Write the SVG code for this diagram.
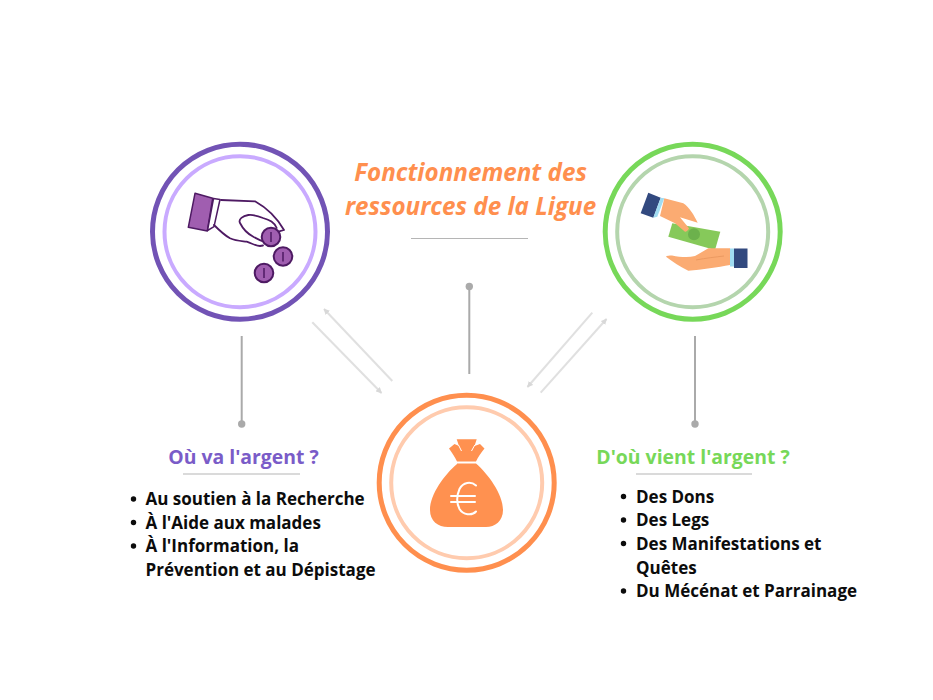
<svg xmlns="http://www.w3.org/2000/svg" width="933" height="700" viewBox="0 0 933 700">
<style>
text{font-family:"Open Sans","Noto Sans",sans-serif;font-weight:700}
.title{font-size:24.200px;font-style:italic;fill:#ff8f4e;text-anchor:middle}
.head{font-size:19.400px;text-anchor:middle}
.item{font-size:17px;fill:#0c0c0c}
.rule{stroke:#b5b5b5;stroke-width:1;fill:none}
.stem{stroke:#aaa;stroke-width:2;fill:none}
.dot{fill:#aaa}
.flow{stroke:#e0e0e0;stroke-width:2;fill:none}
.ring{fill:none}
.bullet{fill:#0c0c0c}
.coin{fill:#a05eb0;stroke:#4e1a63;stroke-width:2}
.coinbar{stroke:#4e1a63;stroke-width:1.500;fill:none}
</style>
<defs>
<marker id="ah" viewBox="0 0 10 10" refX="9" refY="5" markerWidth="6" markerHeight="6" markerUnits="userSpaceOnUse" orient="auto"><path d="M0 0L10 5L0 10Z" fill="#d8d8d8"/></marker>
</defs>
<rect width="933" height="700" fill="#fff"/>
<g id="connectors">
<line class="stem" x1="241.700" y1="336" x2="241.700" y2="424"/><circle class="dot" cx="241.700" cy="424" r="3.700"/>
<line class="stem" x1="469.300" y1="374" x2="469.300" y2="286.500"/><circle class="dot" cx="469.300" cy="286.500" r="3.700"/>
<line class="stem" x1="695" y1="336" x2="695" y2="424"/><circle class="dot" cx="695" cy="424" r="3.700"/>
<line class="flow" x1="312.300" y1="322.300" x2="381.500" y2="393" marker-end="url(#ah)"/>
<line class="flow" x1="392.300" y1="381" x2="324" y2="309" marker-end="url(#ah)"/>
<line class="flow" x1="592.300" y1="312.700" x2="527.500" y2="387" marker-end="url(#ah)"/>
<line class="flow" x1="540.700" y1="392.700" x2="606.500" y2="319" marker-end="url(#ah)"/>
</g>
<g id="node-title">
<text class="title" x="470.500" y="180.500">Fonctionnement des</text>
<text class="title" x="470.500" y="214.500">ressources de la Ligue</text>
<line class="rule" x1="411" y1="238.500" x2="528" y2="238.500"/>
</g>
<g id="node-spend">
<circle class="ring" cx="240" cy="231.700" r="87.500" stroke="#7253b5" stroke-width="5"/>
<circle class="ring" cx="240" cy="231.700" r="75.500" stroke="#c9aaff" stroke-width="4"/>
<path d="M195 193.300L212.700 198.300L207.300 231L188.300 227.300Z" fill="#a05eb0" stroke="#4e1a63" stroke-width="1.500" stroke-linejoin="round"/>
<path d="M213.500 198.500L220 199.500L214 226.700L207.500 230.500Z" fill="#fff" stroke="#4e1a63" stroke-width="1.500" stroke-linejoin="round"/>
<path d="M221 200L255 201.300C267 208 277 218 284 230L278.300 231.700M276.700 228C274 222 270 220 263 218C258 216 253 214.500 248.300 215C243 216 238 219 240 223C243 229 248 234 253.300 236.700C257 239 260 240 262 241M214 225C219 230 224 235 230 238.300C236 241 241 241 246.700 241.700C251 243 256 246 260 246L263 245.500" fill="none" stroke="#4e1a63" stroke-width="1.800" stroke-linejoin="round" stroke-linecap="round"/>
<circle class="coin" cx="271" cy="237" r="9.300"/><line class="coinbar" x1="271" y1="232" x2="271" y2="242"/>
<circle class="coin" cx="283" cy="256.500" r="9.300"/><line class="coinbar" x1="283" y1="252" x2="283" y2="261.500"/>
<circle class="coin" cx="264" cy="273" r="9.300"/><line class="coinbar" x1="264" y1="268" x2="264" y2="278"/>
</g>
<g id="node-source">
<circle class="ring" cx="692.700" cy="231.700" r="87.500" stroke="#77d859" stroke-width="5"/>
<circle class="ring" cx="692.700" cy="231.700" r="75.500" stroke="#b4d5ad" stroke-width="4"/>
<path d="M672.300 223.300L720.300 231.700L715 250L668.300 236.700Z" fill="#86c95a"/>
<circle cx="694" cy="234.300" r="6" fill="#6cb14c"/>
<path d="M648.300 192.700L660.700 197.700L653.300 217.700L640.700 213.300Z" fill="#32497f"/>
<path d="M660.700 197.700L664.300 198.300L657.300 216.700L653.300 217.700Z" fill="#a0dcf2"/>
<path d="M664.300 198.300L683.300 203.300C689 207 694 215 697.700 222.700L680 217.300L689 228.300C688 231 686 232 685 231.700L675 223.300L660 216Z" fill="#fbab72"/>
<path d="M730 248.300L708.300 248.300C704 251 699 254 695 256C688 258 680 257 672 255.500C669 255.500 666 256 666 256.700C672 261 680 267 688.300 270.700C702 270 718 267 730 265Z" fill="#fbab72"/>
<path d="M696 260C706 258 716 257 724 256" fill="none" stroke="#ec9a61" stroke-width="1"/>
<rect x="730" y="248.500" width="4" height="18" fill="#a0dcf2"/>
<rect x="734" y="248.500" width="13.500" height="19.500" fill="#32497f"/>
</g>
<g id="node-money">
<circle class="ring" cx="466.700" cy="482.700" r="87.500" stroke="#ff8f4e" stroke-width="5"/>
<circle class="ring" cx="466.700" cy="482.700" r="75.500" stroke="#ffcbae" stroke-width="4"/>
<path d="M456.700 439.300L476.700 439.300L474.500 446L480 444L484.500 448.500C481 453 478 457 476 461.500L457 461.500C455 457 452 453 449 448.500L454.500 444L459 446Z" fill="#ff9150"/>
<path d="M458.500 445L461.500 451M474.800 445L471.500 451" fill="none" stroke="#fff" stroke-width="1"/>
<path d="M457 463.500L476 463.500C488 474 503 494 503 510C503 521 495 527 486 527L448 527C438 527 430 521 430 510C430 494 445 474 457 464Z" fill="#ff9150"/>
<path d="M476 485.500C471 481 463 482 459.500 489C456.500 496 456.500 503 459.500 509C463 515 472 516 476 511.500M451 496L475 496M451 502L475 502" fill="none" stroke="#fff" stroke-width="2" stroke-linecap="round"/>
</g>
<g id="node-where">
<text class="head" x="243.500" y="464" fill="#7a5cc8">Où va l'argent ?</text>
<line class="rule" x1="183" y1="474" x2="300" y2="474"/>
<circle class="bullet" cx="133.500" cy="499" r="2.700"/>
<circle class="bullet" cx="133.500" cy="522.500" r="2.700"/>
<circle class="bullet" cx="133.500" cy="546" r="2.700"/>
<text class="item" x="145.500" y="505">Au soutien à la Recherche</text>
<text class="item" x="145.500" y="528.700">À l'Aide aux malades</text>
<text class="item" x="145.500" y="552.400">À l'Information, la</text>
<text class="item" x="145.500" y="576">Prévention et au Dépistage</text>
</g>
<g id="node-whence">
<text class="head" x="693" y="464" fill="#77d859">D'où vient l'argent ?</text>
<line class="rule" x1="636" y1="474" x2="752" y2="474"/>
<circle class="bullet" cx="623.500" cy="496.500" r="2.700"/>
<circle class="bullet" cx="623.500" cy="520" r="2.700"/>
<circle class="bullet" cx="623.500" cy="543.500" r="2.700"/>
<circle class="bullet" cx="623.500" cy="591" r="2.700"/>
<text class="item" x="636" y="502.700">Des Dons</text>
<text class="item" x="636" y="526.400">Des Legs</text>
<text class="item" x="636" y="550">Des Manifestations et</text>
<text class="item" x="636" y="573.700">Quêtes</text>
<text class="item" x="636" y="597.400">Du Mécénat et Parrainage</text>
</g>
</svg>
